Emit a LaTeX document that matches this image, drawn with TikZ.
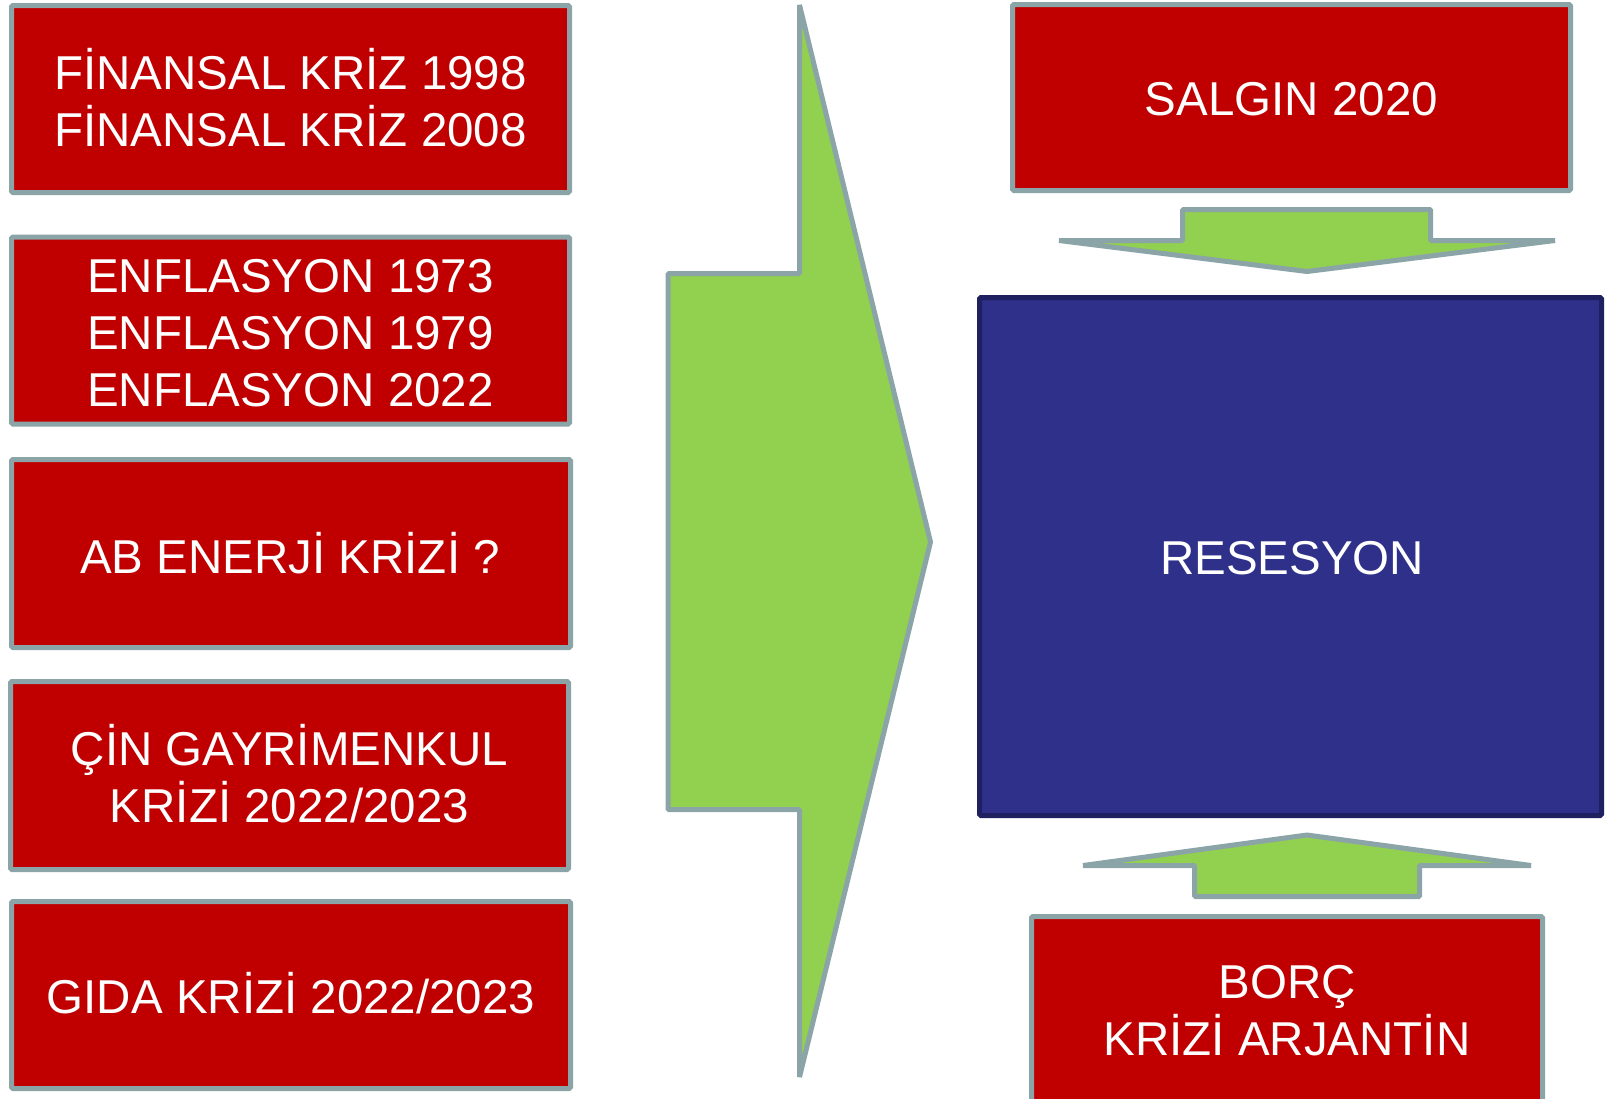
\documentclass[tikz,border=0pt]{standalone}
\usepackage{fontspec}
\setmainfont{Liberation Sans}
\definecolor{boxred}{HTML}{C00000}
\definecolor{edgegray}{HTML}{8BA4A7}
\definecolor{arrowgreen}{HTML}{92D050}
\definecolor{boxblue}{HTML}{2E3089}
\definecolor{edgeblue}{HTML}{1F205F}
\newcommand\mlines[1]{\vtop{\halign{\hfil##\hfil\cr#1\crcr}}}
\begin{document}
\begin{tikzpicture}[x=1pt,y=-1pt,
  redbox/.style={rectangle, draw=edgegray, line width=5pt, fill=boxred, inner sep=0pt, rounded corners=1.5pt},
  bluebox/.style={rectangle, draw=edgeblue, line width=5pt, fill=boxblue, inner sep=0pt, rounded corners=1.5pt},
  boxtext/.style={anchor=base, inner sep=0pt, text=white, font=\fontsize{47.5}{57}\selectfont},
  blockarrow/.style={draw=edgegray, line width=5pt, fill=arrowgreen, line join=bevel}]
\useasboundingbox (0,0) rectangle (1605,1098);

% big arrow and small arrows
\draw[blockarrow] (799.5,5) -- (930.5,542) -- (799.5,1077) -- (799.5,809.5) -- (668,809.5) -- (668,273.5) -- (799.5,273.5) -- cycle;
\draw[blockarrow] (1182.5,209.5) -- (1430.5,209.5) -- (1430.5,240.5) -- (1555,240.5) -- (1307,271.5) -- (1059,240.5) -- (1182.5,240.5) -- cycle;
\draw[blockarrow] (1307,835) -- (1531,865.5) -- (1419.5,865.5) -- (1419.5,896.5) -- (1194.5,896.5) -- (1194.5,865.5) -- (1083,865.5) -- cycle;

% left boxes
\node[redbox, minimum width=558pt, minimum height=187pt] (b1) at (290.5,99) {};
\node[redbox, minimum width=558pt, minimum height=187pt] (b2) at (290.5,330.5) {};
\node[redbox, minimum width=559pt, minimum height=188pt] (b3) at (291,553.5) {};
\node[redbox, minimum width=558pt, minimum height=188pt] (b4) at (289.5,775.5) {};
\node[redbox, minimum width=559pt, minimum height=187pt] (b5) at (291,995) {};

% right boxes
\node[redbox, minimum width=558pt, minimum height=186pt] (salgin) at (1291.5,97.5) {};
\node[bluebox, minimum width=622pt, minimum height=518pt] (res) at (1290.5,556.5) {};
\node[redbox, minimum width=511pt, minimum height=186pt] (borc) at (1287,1009.5) {};

% texts
\node[boxtext] (t1) at (290.5,89.3) {\mlines{FİNANSAL KRİZ 1998\cr FİNANSAL KRİZ 2008}};
\node[boxtext] (t2) at (290.5,292.3) {\mlines{ENFLASYON 1973\cr ENFLASYON 1979\cr ENFLASYON 2022}};
\node[boxtext] (t3) at (290,573) {AB ENERJİ KRİZİ ?};
\node[boxtext] (t4) at (289.5,765) {\mlines{ÇİN GAYRİMENKUL\cr KRİZİ 2022/2023}};
\node[boxtext] (t5) at (291,1013) {GIDA KRİZİ 2022/2023};
\node[boxtext] (t6) at (1291.5,115) {SALGIN 2020};
\node[boxtext] (t7) at (1292,574) {RESESYON};
\node[boxtext] (t8) at (1287,998) {\mlines{BORÇ\cr KRİZİ ARJANTİN}};
\end{tikzpicture}
\end{document}
